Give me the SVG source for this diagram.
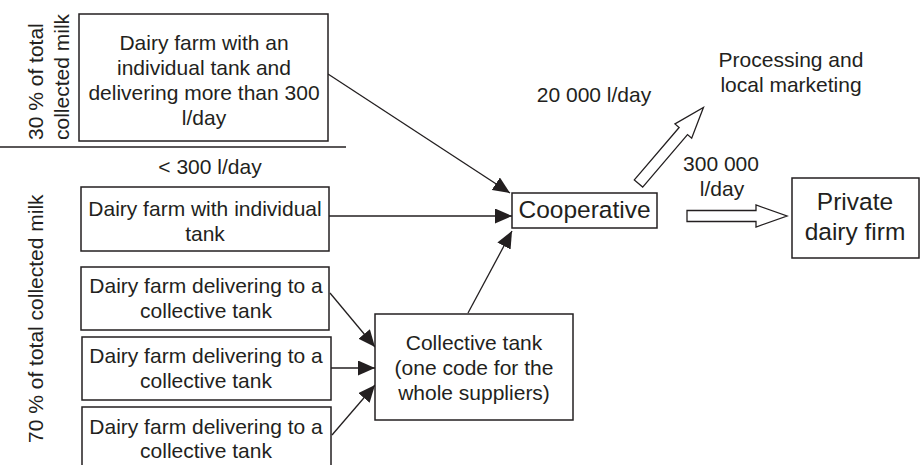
<svg xmlns="http://www.w3.org/2000/svg" width="920" height="465" viewBox="0 0 920 465">
<style>
text { font-family: "Liberation Sans", Arial, Helvetica, sans-serif; font-size: 21px; fill: #231f20; }
.c { text-anchor: middle; }
.big { font-size: 24.5px; }
.box { fill: #ffffff; stroke: #231f20; stroke-width: 1.5; }
.ln { stroke: #231f20; stroke-width: 1.3; fill: none; }
.conn { stroke: #231f20; stroke-width: 1.3; fill: none; marker-end: url(#ah); }
.hollow { fill: #ffffff; stroke: #231f20; stroke-width: 1.3; stroke-linejoin: miter; }
</style>
<defs>
<marker id="ah" markerUnits="userSpaceOnUse" markerWidth="17" markerHeight="15" refX="17" refY="7.5" orient="auto" viewBox="0 0 17 15">
<path d="M0,0 L17,7.5 L0,15 z" fill="#231f20"/>
</marker>
<polygon id="harrow" points="0,-5.5 69,-5.5 69,-11 100,0 69,11 69,5.5 0,5.5"/>
</defs>
<rect width="920" height="465" fill="#ffffff"/>

<g id="labels">
<text transform="translate(43,140) rotate(-90)">30 % of total</text>
<text transform="translate(69,140) rotate(-90)">collected milk</text>
<line class="ln" x1="0" y1="147" x2="346" y2="147"/>
<text class="c" x="210" y="174">&lt; 300 l/day</text>
<text transform="translate(43,443) rotate(-90)">70 % of total collected milk</text>
<text class="c" x="594" y="102">20 000 l/day</text>
<text class="c" x="721" y="171">300 000</text>
<text class="c" x="722" y="196">l/day</text>
</g>

<g id="connectors">
<line class="conn" x1="328" y1="74" x2="510" y2="193"/>
<line class="conn" x1="329" y1="216" x2="512" y2="216"/>
<line class="conn" x1="468" y1="313" x2="512" y2="231"/>
<line class="conn" x1="330" y1="293" x2="375" y2="347"/>
<line class="conn" x1="331" y1="368" x2="375" y2="368"/>
<line class="conn" x1="332" y1="435" x2="375" y2="385"/>
<use href="#harrow" class="hollow" transform="translate(638.5,183.5) rotate(-49.5)"/>
<use href="#harrow" class="hollow" transform="translate(687,216)"/>
</g>

<g id="farm-large">
<rect class="box" x="79" y="14" width="249" height="127"/>
<text class="c" x="204" y="50">Dairy farm with an</text>
<text class="c" x="204" y="75">individual tank and</text>
<text class="c" x="204" y="100">delivering more than 300</text>
<text class="c" x="204" y="125">l/day</text>
</g>

<g id="farm-individual">
<rect class="box" x="81" y="187" width="248" height="64"/>
<text class="c" x="205" y="216">Dairy farm with individual</text>
<text class="c" x="205" y="241">tank</text>
</g>

<g id="farm-collective-1">
<rect class="box" x="81" y="267" width="248" height="63"/>
<text class="c" x="206" y="293">Dairy farm delivering to a</text>
<text class="c" x="206" y="318">collective tank</text>
</g>

<g id="farm-collective-2">
<rect class="box" x="82" y="337" width="249" height="63"/>
<text class="c" x="206" y="363">Dairy farm delivering to a</text>
<text class="c" x="206" y="388">collective tank</text>
</g>

<g id="farm-collective-3">
<rect class="box" x="82" y="407" width="249" height="66"/>
<text class="c" x="206" y="434">Dairy farm delivering to a</text>
<text class="c" x="206" y="458">collective tank</text>
</g>

<g id="collective-tank">
<rect class="box" x="375" y="314" width="198" height="106"/>
<text class="c" x="474" y="350">Collective tank</text>
<text class="c" x="474" y="375">(one code for the</text>
<text class="c" x="474" y="400">whole suppliers)</text>
</g>

<g id="cooperative">
<rect class="box" x="512" y="193" width="145" height="35"/>
<text class="c big" x="584.5" y="218">Cooperative</text>
</g>

<g id="processing">
<text class="c" x="791" y="67">Processing and</text>
<text class="c" x="791" y="92">local marketing</text>
</g>

<g id="private-firm">
<rect class="box" x="792" y="178" width="127" height="80"/>
<text class="c big" x="855" y="210">Private</text>
<text class="c big" x="855" y="240">dairy firm</text>
</g>
</svg>
